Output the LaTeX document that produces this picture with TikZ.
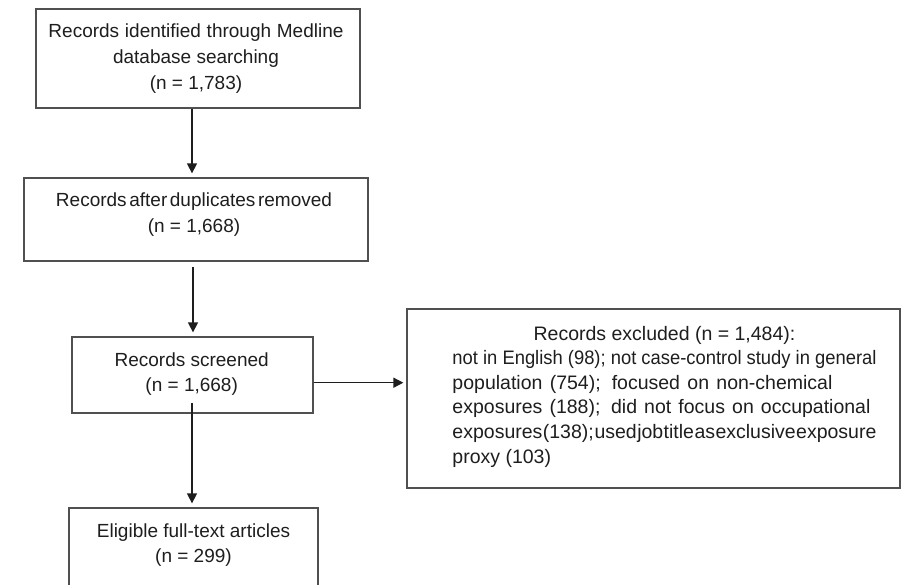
\documentclass[tikz,border=0pt]{standalone}
\usepackage{fontspec}
\usepackage{graphicx}
\setmainfont{Liberation Sans}
\usetikzlibrary{arrows.meta}
\definecolor{boxline}{RGB}{80,80,80}
\definecolor{ink}{RGB}{30,30,30}
\newcommand\fitline[2]{{\spaceskip=0pt plus 1fil\makebox[#1][s]{#2}}}
\newcommand\squeezeline[2]{\resizebox{#1}{\height}{#2}}
\begin{document}
\begin{tikzpicture}[x=1pt,y=1pt,
  box/.style={draw=boxline,line width=1.3pt,minimum width=#1,inner sep=0pt},
  txt/.style={text=ink,align=center,font=\fontsize{19}{25}\selectfont,inner sep=0pt},
  arr/.style={draw=ink,line width=1.4pt,-{Triangle[length=10pt,width=10pt]},shorten >=4pt}]
\useasboundingbox (0,0) rectangle (906,-585);
\fill[white] (0,0) rectangle (906,-585);
\clip (0,0) rectangle (906,-585);
% boxes
\node[box=324pt,minimum height=99pt] (b1) at (198,-58.5) {};
\node[box=344pt,minimum height=83pt] (b2) at (196,-219.5) {};
\node[box=241pt,minimum height=76pt] (b3) at (192.5,-375) {};
\node[box=249pt,minimum height=100pt] (b4) at (193.5,-558) {};
\node[box=493pt,minimum height=179pt] (ex) at (653.5,-398.5) {};
% texts
\node[txt,font=\fontsize{19}{26}\selectfont] (t1) at (196,-59) {\fitline{295pt}{Records identified through Medline}\\database searching\\(n = 1,783)};
\node[txt,font=\fontsize{19}{26}\selectfont] (t2) at (194,-215) {\fitline{276pt}{Records after duplicates removed}\\(n = 1,668)};
\node[txt] (t3) at (191.7,-374.5) {Records screened\\(n = 1,668)};
\node[txt,font=\fontsize{19}{24.5}\selectfont] (t4) at (193.5,-545) {Eligible full-text articles\\(n = 299)};
\node[txt,align=left,font=\fontsize{19.5}{24.6}\selectfont] (t5) at (664.5,-396.5) {\makebox[424pt]{Records excluded (n = 1,484):}\\
\squeezeline{424pt}{not in English (98); not case-control study in general}\\
\fitline{380pt}{population (754); focused on non-chemical}\\
\fitline{418pt}{exposures (188); did not focus on occupational}\\
\fitline{424pt}{exposures (138); used job title as exclusive exposure}\\
proxy (103)};
% connector anchors
\coordinate (c1) at (192,0);
\coordinate (s2) at (193,-267);
\coordinate (s3) at (192,-403);
\coordinate (h) at (0,-382.7);
% arrows
\draw[arr] (b1.south -| c1) -- (b2.north -| c1);
\draw[arr] (s2) -- (s2 |- b3.north);
\draw[arr] (s3) -- (s3 |- b4.north);
\draw[arr,shorten >=3pt] (b3.east |- h) -- (ex.west |- h);
\end{tikzpicture}
\end{document}
